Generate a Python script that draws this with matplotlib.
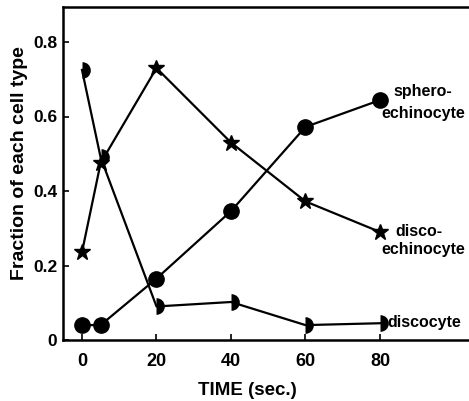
import numpy as np
import matplotlib
matplotlib.use('agg')
import matplotlib.pyplot as plt

plt.rcParams['font.family'] = 'Liberation Sans'
plt.rcParams['font.weight'] = 'bold'

time_sphero = [0, 5, 20, 40, 60, 80]
sphero = [0.04, 0.04, 0.165, 0.346, 0.572, 0.644]
time_disco_echino = [0, 5, 20, 40, 60, 80]
disco_echino = [0.236, 0.475, 0.73, 0.53, 0.372, 0.29]
time_disco = [0, 5, 20, 40, 60, 80]
disco = [0.725, 0.49, 0.09, 0.102, 0.04, 0.045]

xticks = [0, 20, 40, 60, 80]
yticks = [0, 0.2, 0.4, 0.6, 0.8]
ytick_labels = ['0', '0.2', '0.4', '0.6', '0.8']

fig = plt.figure(figsize=(4.69, 4.01), dpi=100)
ax = fig.add_axes([63/469, 61/401, 460/469, 333/401])

ax.plot(time_sphero, sphero, color='black', lw=1.6, marker='o', ms=11)
ax.plot(time_disco_echino, disco_echino, color='black', lw=1.6, marker='*', ms=12)
ax.plot(time_disco, disco, color='black', lw=1.6, marker='o', ms=12,
        fillstyle='right', markerfacecoloralt='none', mew=0)

ax.set_xlim(-5.1, -5.1 + 460/3.725)
ax.set_ylim(0, 333/372.5)
ax.set_xticks(xticks)
ax.set_yticks(yticks)
ax.set_yticklabels(ytick_labels)
ax.tick_params(direction='in', length=4, width=1.2, labelsize=12.5)
ax.tick_params(axis='x', pad=9, labelsize=13)
ax.tick_params(axis='y', pad=4)
ax.spines['right'].set_visible(False)
for s in ['left', 'bottom', 'top']:
    ax.spines[s].set_linewidth(1.8)

ax.set_xlabel('TIME (sec.)', fontsize=13.5, fontweight='bold', va='top')
ax.xaxis.set_label_coords(0.4, -0.125)
ax.set_ylabel('Fraction of each cell type', fontsize=14, fontweight='bold')
ax.yaxis.set_label_coords(-0.075, 0.53)

ax.text(83.5, 0.666, 'sphero-', fontsize=11.5, va='center', ha='left')
ax.text(80.5, 0.607, 'echinocyte', fontsize=11.5, va='center', ha='left')
ax.text(84, 0.29, 'disco-', fontsize=11.5, va='center', ha='left')
ax.text(80.5, 0.242, 'echinocyte', fontsize=11.5, va='center', ha='left')
ax.text(82, 0.048, 'discocyte', fontsize=11.5, va='center', ha='left')

fig.savefig('out.png', dpi=100)
